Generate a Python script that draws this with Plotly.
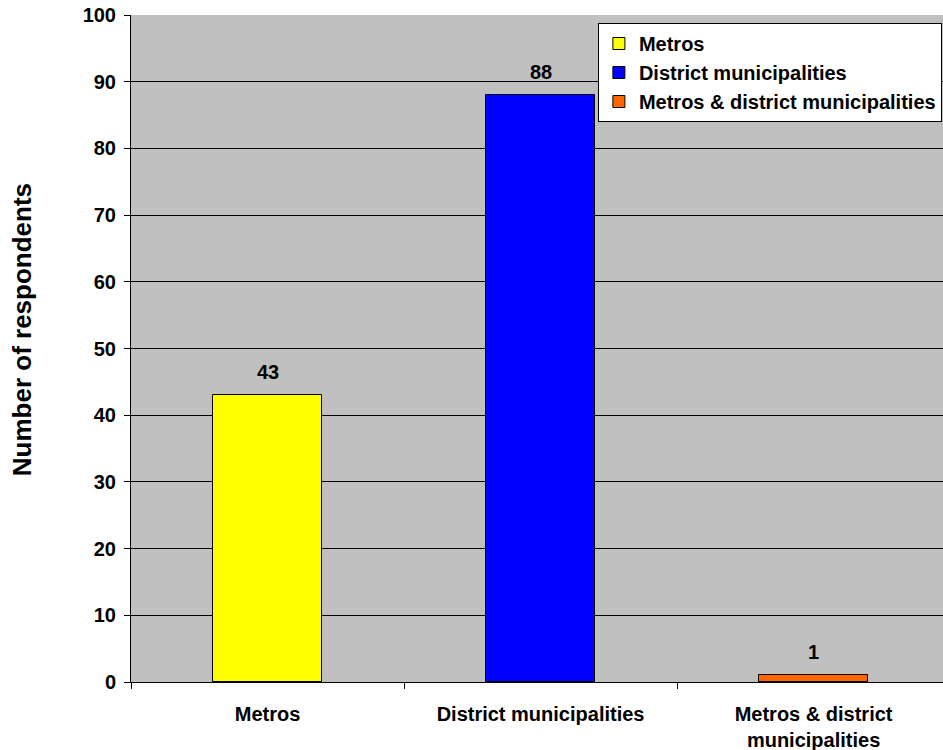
import plotly.graph_objects as go

# Respondent counts by municipality type
categories = ["Metros", "District municipalities", "Metros & district<br>municipalities"]
series_names = ["Metros", "District municipalities", "Metros & district municipalities"]
respondents = [43, 88, 1]
colors = ["#FFFF00", "#0000FF", "#FF6600"]
y_ticks = list(range(0, 101, 10))

FONT = "Liberation Sans, Arial, sans-serif"

fig = go.Figure()
for cat, name, val, col in zip(categories, series_names, respondents, colors):
    fig.add_trace(go.Bar(
        x=[cat], y=[val], name="<b>%s</b>" % name, width=0.4,
        marker=dict(color=col, line=dict(color="black", width=1)),
    ))
    fig.add_annotation(
        x=cat, y=val, text="<b>%d</b>" % val, showarrow=False,
        yanchor="bottom", yshift=10,
        font=dict(family=FONT, size=20, color="black"),
    )

fig.add_annotation(
    text="<b>Number of respondents</b>", textangle=-90, showarrow=False,
    xref="paper", yref="paper", x=-0.135, y=0.528,
    xanchor="center", yanchor="middle",
    font=dict(family=FONT, size=26, color="black"),
)

fig.update_layout(
    width=943, height=750,
    margin=dict(l=131, r=0, t=15, b=68),
    paper_bgcolor="white", plot_bgcolor="#C0C0C0",
    barmode="overlay", bargap=0,
    font=dict(family=FONT, size=20, color="black", weight="bold"),
    showlegend=True,
    legend=dict(
        x=0.575, y=0.988, xanchor="left", yanchor="top",
        bgcolor="white", bordercolor="black", borderwidth=1,
        font=dict(family=FONT, size=20, color="black"),
        itemwidth=30, tracegroupgap=0,
    ),
    xaxis=dict(
        type="category", range=[-0.5, 2.474],
        tickson="boundaries", ticks="outside", ticklen=6, tickcolor="black",
        showline=True, linecolor="black", linewidth=1,
        showgrid=False, ticklabelstandoff=14, tickangle=0,
    ),
    yaxis=dict(
        range=[0, 100], tickvals=y_ticks, ticks="outside", ticklen=6,
        tickcolor="black", showline=True, linecolor="black", linewidth=1,
        showgrid=True, gridcolor="black", gridwidth=1, zeroline=False,
        ticklabelstandoff=4,
    ),
)

fig.write_html("out.html")
